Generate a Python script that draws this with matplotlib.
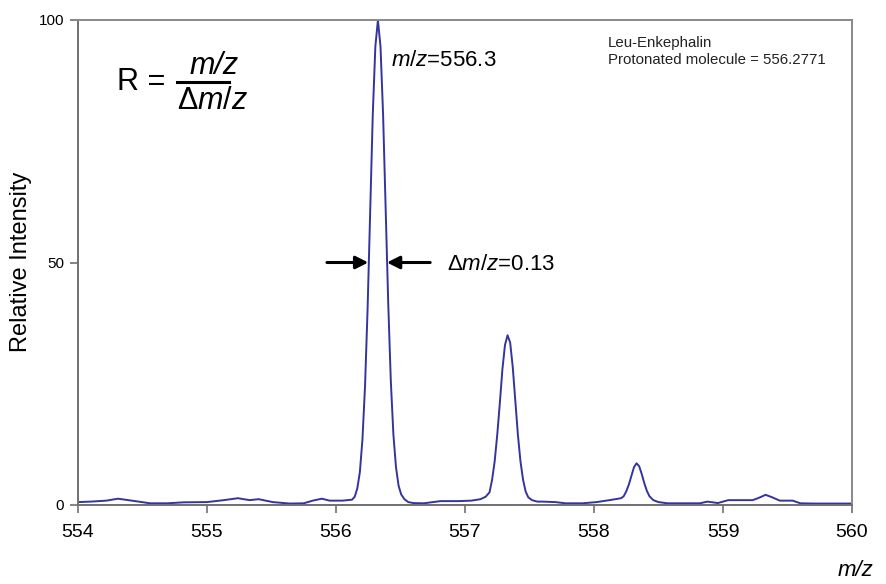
import matplotlib
matplotlib.use("Agg")
import matplotlib.pyplot as plt
from matplotlib.lines import Line2D
import numpy as np

plt.rcParams["font.family"] = ["Liberation Sans", "DejaVu Sans"]
plt.rcParams["mathtext.fontset"] = "custom"
plt.rcParams["mathtext.rm"] = "Liberation Sans"
plt.rcParams["mathtext.it"] = "Liberation Sans:italic"

# Leu-enkephalin spectrum, m/z vs relative intensity (read point by point)
MZ = [
    554.00, 554.10, 554.22, 554.31, 554.43, 554.56, 554.69, 554.82, 555.00,
    555.13, 555.24, 555.33, 555.40, 555.51, 555.64, 555.75, 555.82, 555.89,
    555.95, 556.05, 556.125,
    556.145, 556.165, 556.185, 556.205, 556.225, 556.245, 556.265, 556.285,
    556.305, 556.325, 556.345, 556.365, 556.385, 556.405, 556.425, 556.445,
    556.465, 556.485, 556.505, 556.53, 556.56, 556.60, 556.68, 556.81,
    556.95, 557.05, 557.12, 557.16,
    557.19, 557.21, 557.23, 557.25, 557.27, 557.29, 557.31, 557.33, 557.35,
    557.37, 557.39, 557.41, 557.43, 557.45, 557.47, 557.49, 557.52, 557.56,
    557.60, 557.70, 557.78, 557.91, 558.02, 558.12,
    558.21, 558.23, 558.25, 558.27, 558.29, 558.31, 558.33, 558.35, 558.37,
    558.39, 558.41, 558.43, 558.46, 558.50, 558.57, 558.70, 558.82, 558.88,
    558.96, 559.04, 559.15, 559.23, 559.28, 559.33, 559.38, 559.44, 559.54,
    559.60, 559.70, 559.80, 559.90, 560.00,
]
INTENSITY = [
    0.6, 0.7, 0.9, 1.3, 0.85, 0.35, 0.35, 0.55, 0.6,
    1.0, 1.4, 1.0, 1.2, 0.6, 0.3, 0.35, 0.9, 1.3,
    0.9, 0.9, 1.1,
    1.7, 3.4, 6.8, 13.5, 24.5, 40.5, 60.5, 80.5,
    94.5, 100.0, 94.5, 80.5, 61.0, 41.5, 25.5, 14.5,
    7.8, 4.0, 2.2, 1.2, 0.6, 0.4, 0.35, 0.8,
    0.8, 0.9, 1.2, 1.7,
    2.6, 5.2, 9.0, 14.5, 21.0, 28.0, 33.0, 35.0, 33.5,
    28.5, 21.5, 14.5, 9.0, 5.2, 2.8, 1.6, 1.0, 0.7,
    0.7, 0.6, 0.35, 0.35, 0.6, 1.0,
    1.4, 1.8, 2.8, 4.2, 6.0, 7.8, 8.6, 8.0, 6.4,
    4.5, 2.9, 1.8, 1.0, 0.6, 0.35, 0.35, 0.35, 0.7,
    0.4, 1.0, 1.0, 1.0, 1.5, 2.1, 1.6, 0.9, 0.9,
    0.35, 0.3, 0.3, 0.3, 0.3,
]

X_TICKS = [554, 555, 556, 557, 558, 559, 560]
Y_TICKS = [0, 50, 100]

PEAK_LABEL = "556.3"
WIDTH_LABEL = "0.13"
ARROW_Y = 50
ARROW_LEFT = (555.93, 556.25)
ARROW_RIGHT = (556.73, 556.395)

W, H = 886, 584
LINE_COLOR = "#34349e"
SPINE_COLOR = "#707070"


def fx(px):
    return px / W


def fy(py):
    return 1 - py / H


fig = plt.figure(figsize=(W / 100, H / 100), dpi=100)
ax = fig.add_axes([fx(78), fy(505), fx(852) - fx(78), fy(20) - fy(505)])

ax.plot(MZ, INTENSITY, color=LINE_COLOR, linewidth=1.4)

ax.set_xlim(X_TICKS[0], X_TICKS[-1])
ax.set_ylim(Y_TICKS[0], Y_TICKS[-1])
ax.set_xticks(X_TICKS)
ax.set_yticks(Y_TICKS)
ax.tick_params(axis="x", direction="out", length=6, width=1.2,
               color=SPINE_COLOR, labelsize=14, pad=8)
ax.tick_params(axis="y", direction="out", length=6, width=1.2,
               color=SPINE_COLOR, labelsize=11, pad=4)
for side, spine in ax.spines.items():
    spine.set_color(SPINE_COLOR if side in ("left", "bottom") else "#8a8a8a")
    spine.set_linewidth(1.4)

# FWHM arrows
arrow_kw = dict(arrowstyle="-|>,head_length=0.75,head_width=0.38",
                color="black", lw=2.2, shrinkA=0, shrinkB=0)
ax.annotate("", xy=(ARROW_LEFT[1], ARROW_Y), xytext=(ARROW_LEFT[0], ARROW_Y),
            arrowprops=arrow_kw)
ax.annotate("", xy=(ARROW_RIGHT[1], ARROW_Y), xytext=(ARROW_RIGHT[0], ARROW_Y),
            arrowprops=arrow_kw)

fig.text(fx(447), fy(264), r"$\Delta\mathit{m/z}$=" + WIDTH_LABEL,
         fontsize=16, ha="left", va="center")
fig.text(fx(391), fy(61), r"$\mathit{m/z}$=" + PEAK_LABEL,
         fontsize=16, ha="left", va="center")

# resolution formula
fig.text(fx(141), fy(82), "R =", fontsize=22, ha="center", va="center")
fig.text(fx(214), fy(66), "m/z", fontsize=22, style="italic",
         ha="center", va="center")
fig.add_artist(Line2D([fx(177), fx(229)], [fy(82), fy(82)],
                      color="black", linewidth=2.2))
fig.text(fx(213), fy(101), r"$\Delta\mathit{m/z}$", fontsize=22,
         ha="center", va="center")

fig.text(fx(608), fy(43), "Leu-Enkephalin", fontsize=10.8,
         ha="left", va="center", color="#222222")
fig.text(fx(608), fy(60), "Protonated molecule = 556.2771", fontsize=10.8,
         ha="left", va="center", color="#222222")

fig.text(fx(21), fy(262), "Relative Intensity", fontsize=17,
         rotation=90, ha="center", va="center")
fig.text(fx(856), fy(570), "m/z", fontsize=16, style="italic",
         ha="center", va="center")

fig.savefig("out.png", dpi=100)
